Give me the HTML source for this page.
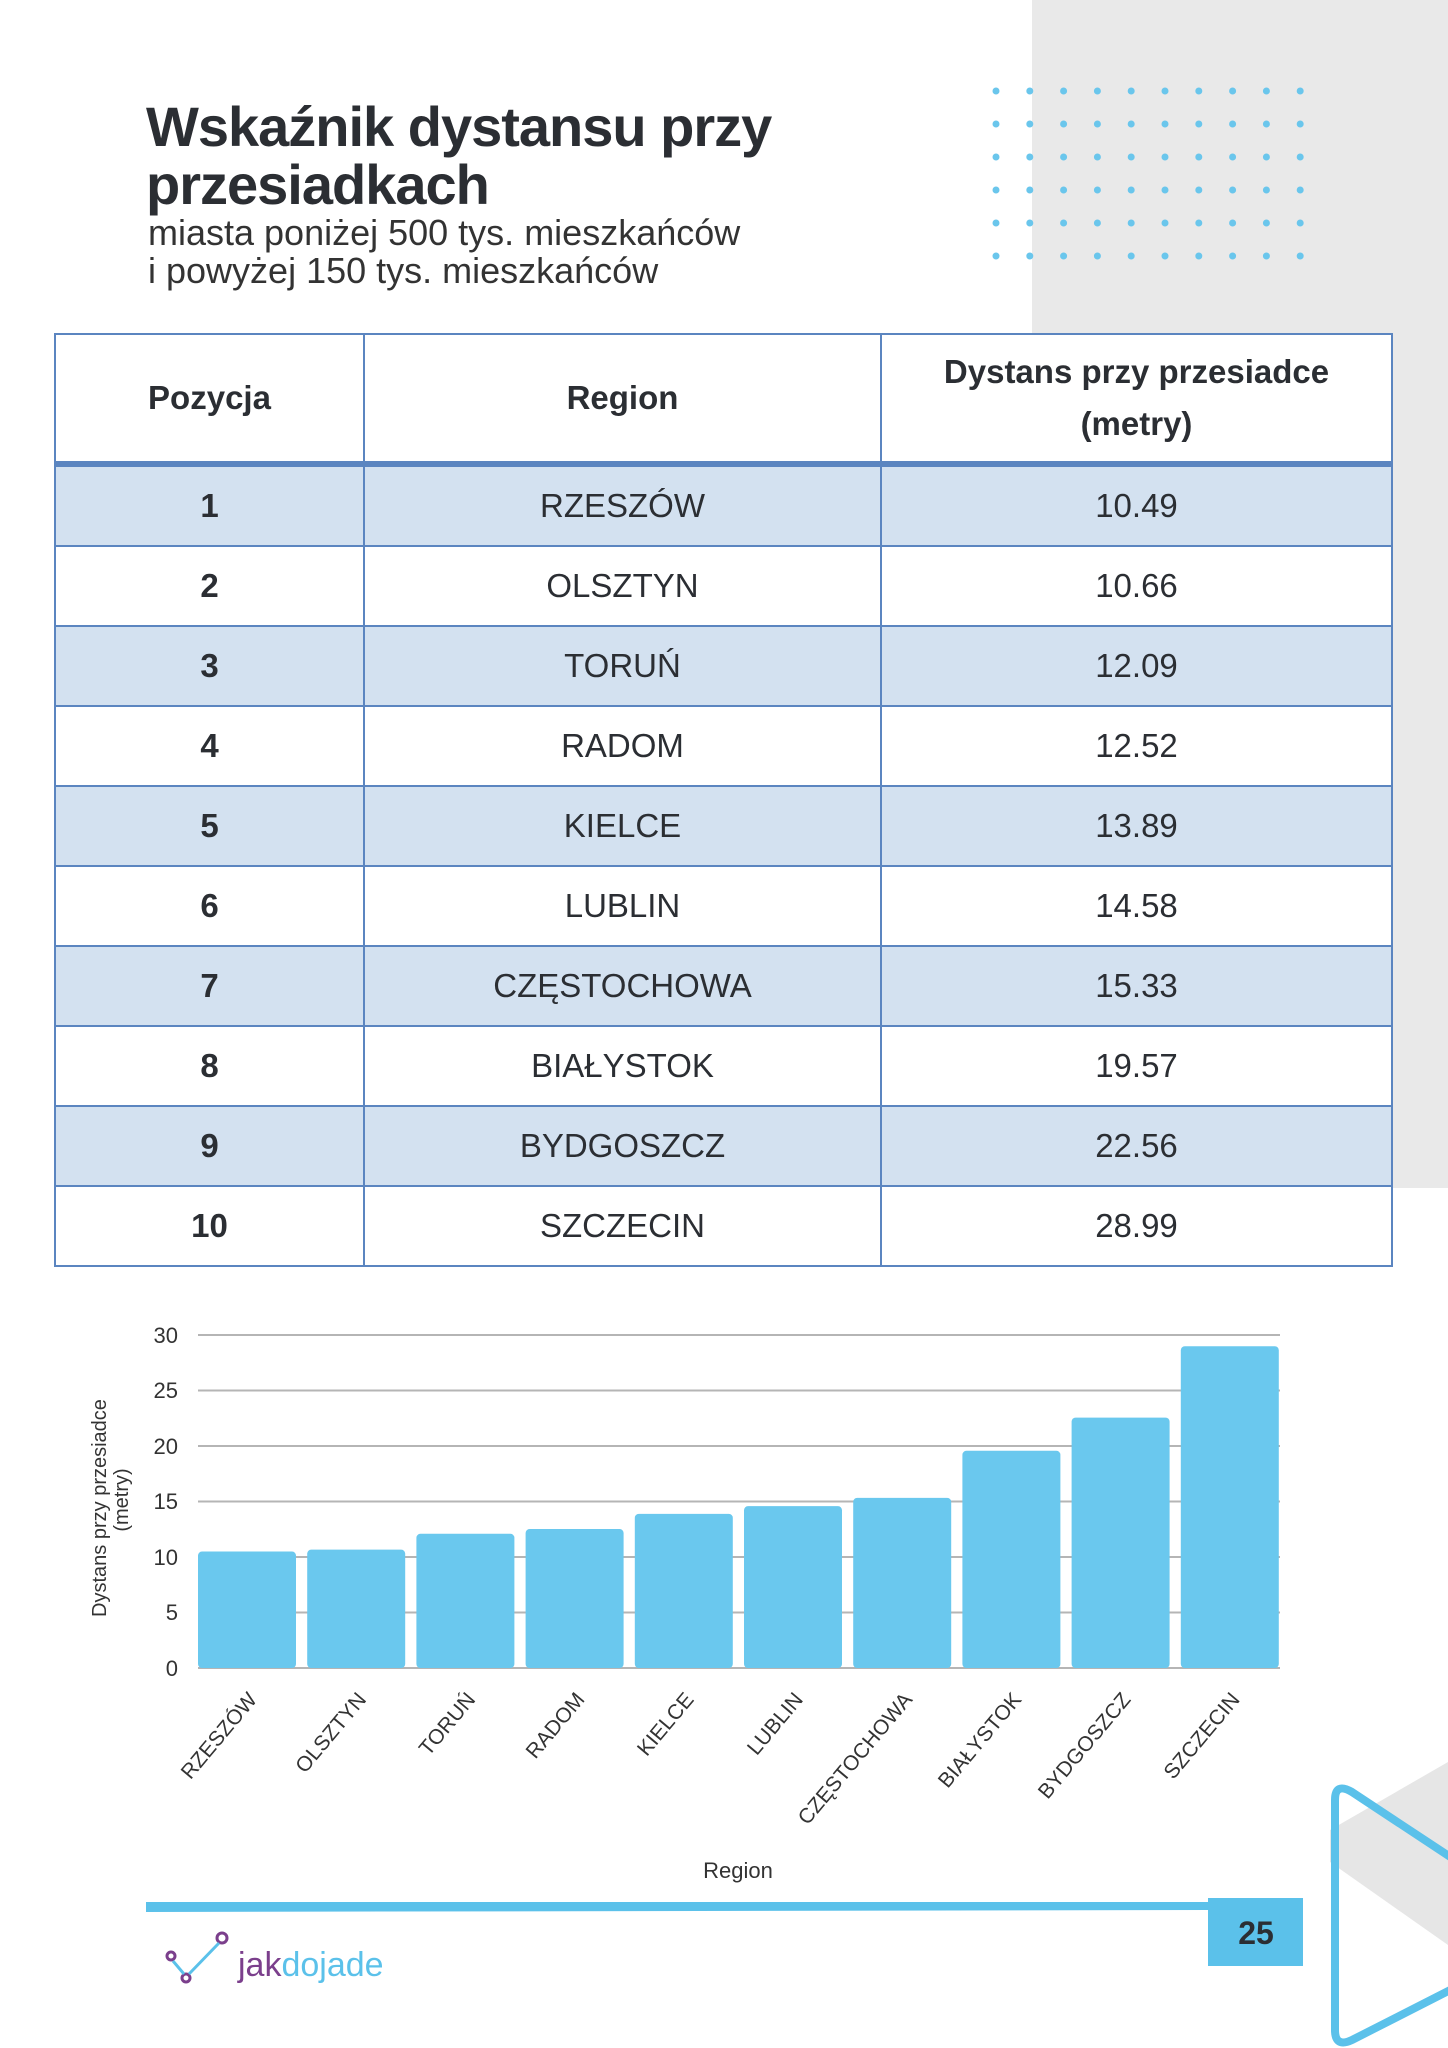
<!DOCTYPE html>
<html><head><meta charset="utf-8"><style>
body{margin:0;width:1448px;height:2048px;position:relative;background:#fff;font-family:"Liberation Sans","DejaVu Sans",sans-serif;color:#2b2e33;overflow:hidden}
.a{position:absolute}
table{border-collapse:collapse;position:absolute;left:54px;top:333px;width:1339px}
td,th{border:2.5px solid #5b85c0;text-align:center;font-size:33px;background:#fff}
th{height:124px;font-weight:bold;line-height:52px}
td{height:76px}
tr.h td{background:#d3e1f0}
td:first-child{font-weight:bold}
thead tr{border-bottom:6px solid #5b85c0}
</style></head><body>
<div class="a" style="left:1032px;top:0;width:416px;height:1188px;background:#e9e9e9"></div>
<div class="a" style="left:146px;top:98px;font-size:56px;font-weight:bold;line-height:58px;letter-spacing:-1px">Wskaźnik dystansu przy<br>przesiadkach</div>
<div class="a" style="left:148px;top:214px;font-size:36px;line-height:38px;color:#333">miasta poniżej 500 tys. mieszkańców<br>i powyżej 150 tys. mieszkańców</div>
<table>
<thead><tr><th style="width:305px">Pozycja</th><th style="width:513px">Region</th><th>Dystans przy przesiadce<br>(metry)</th></tr></thead>
<tbody>
<tr class="h"><td>1</td><td>RZESZÓW</td><td>10.49</td></tr>
<tr><td>2</td><td>OLSZTYN</td><td>10.66</td></tr>
<tr class="h"><td>3</td><td>TORUŃ</td><td>12.09</td></tr>
<tr><td>4</td><td>RADOM</td><td>12.52</td></tr>
<tr class="h"><td>5</td><td>KIELCE</td><td>13.89</td></tr>
<tr><td>6</td><td>LUBLIN</td><td>14.58</td></tr>
<tr class="h"><td>7</td><td>CZĘSTOCHOWA</td><td>15.33</td></tr>
<tr><td>8</td><td>BIAŁYSTOK</td><td>19.57</td></tr>
<tr class="h"><td>9</td><td>BYDGOSZCZ</td><td>22.56</td></tr>
<tr><td>10</td><td>SZCZECIN</td><td>28.99</td></tr>
</tbody></table>
<svg class="a" style="left:0;top:0" width="1448" height="2048">
<g fill="#6ac6ec" id="dg"></g>
<g stroke="#b5b5b5" stroke-width="2">
<line x1="198" x2="1280" y1="1335" y2="1335"/><line x1="198" x2="1280" y1="1390.5" y2="1390.5"/><line x1="198" x2="1280" y1="1446" y2="1446"/><line x1="198" x2="1280" y1="1501.5" y2="1501.5"/><line x1="198" x2="1280" y1="1557" y2="1557"/><line x1="198" x2="1280" y1="1612.5" y2="1612.5"/><line x1="198" x2="1280" y1="1668" y2="1668"/>
</g>
<g font-size="22" fill="#333" text-anchor="end">
<text x="178" y="1343">30</text><text x="178" y="1398">25</text><text x="178" y="1454">20</text><text x="178" y="1509">15</text><text x="178" y="1565">10</text><text x="178" y="1620">5</text><text x="178" y="1676">0</text>
</g>
<g fill="#6ac8ee" id="bars"></g>
<g font-size="21" fill="#333" text-anchor="end" id="lbl"></g>
<text transform="translate(106,1508) rotate(-90)" font-size="20" fill="#333" text-anchor="middle">Dystans przy przesiadce</text>
<text transform="translate(128,1500) rotate(-90)" font-size="20" fill="#333" text-anchor="middle">(metry)</text>
<text x="738" y="1878" font-size="22" fill="#333" text-anchor="middle">Region</text>
<polygon points="1330,1830 1448,1762 1448,1945 1330,1862" fill="#e6e6e6"/>
<path d="M1335,1800 Q1335,1782 1352,1792 L1470,1870 M1335,1800 L1335,2030 Q1335,2048 1352,2040 L1460,1985" fill="none" stroke="#5bc1ea" stroke-width="8"/>
<polygon points="146,1902 1208,1902 1208,1910 146,1912" fill="#5bc1ea"/>
<rect x="1208" y="1898" width="95" height="68" fill="#5bc1ea"/>
<text x="1256" y="1944" font-size="32" font-weight="bold" fill="#2b2e33" text-anchor="middle">25</text>
<g fill="none" stroke="#7b3f8c" stroke-width="3"><circle cx="171" cy="1956" r="4"/><circle cx="186" cy="1978" r="4"/><circle cx="222" cy="1938" r="5"/><path d="M173,1961 L184,1974 M189,1974 L219,1943" stroke="#5bc1ea"/></g>
<text x="238" y="1976" font-size="34" fill="#7b3f8c">jak<tspan fill="#5bc1ea">dojade</tspan></text>
</svg>
<script>
var d=document.getElementById('dg'),s='';
for(var r=0;r<6;r++)for(var c=0;c<10;c++)s+='<circle cx="'+(996+c*33.8)+'" cy="'+(91+r*33)+'" r="3.5"/>';
d.innerHTML=s;
var v=[10.49,10.66,12.09,12.52,13.89,14.58,15.33,19.57,22.56,28.99],n=['RZESZÓW','OLSZTYN','TORUŃ','RADOM','KIELCE','LUBLIN','CZĘSTOCHOWA','BIAŁYSTOK','BYDGOSZCZ','SZCZECIN'];
var b='',l='';
for(var i=0;i<10;i++){var x=198+i*109.2,h=v[i]*11.1;b+='<rect x="'+x+'" y="'+(1668-h)+'" width="98" height="'+h+'" rx="4"/>';
var cx=x+60,cy=1700;l+='<text transform="translate('+cx+','+cy+') rotate(-50)">'+n[i]+'</text>';}
document.getElementById('bars').innerHTML=b;document.getElementById('lbl').innerHTML=l;
</script>
</body></html>
